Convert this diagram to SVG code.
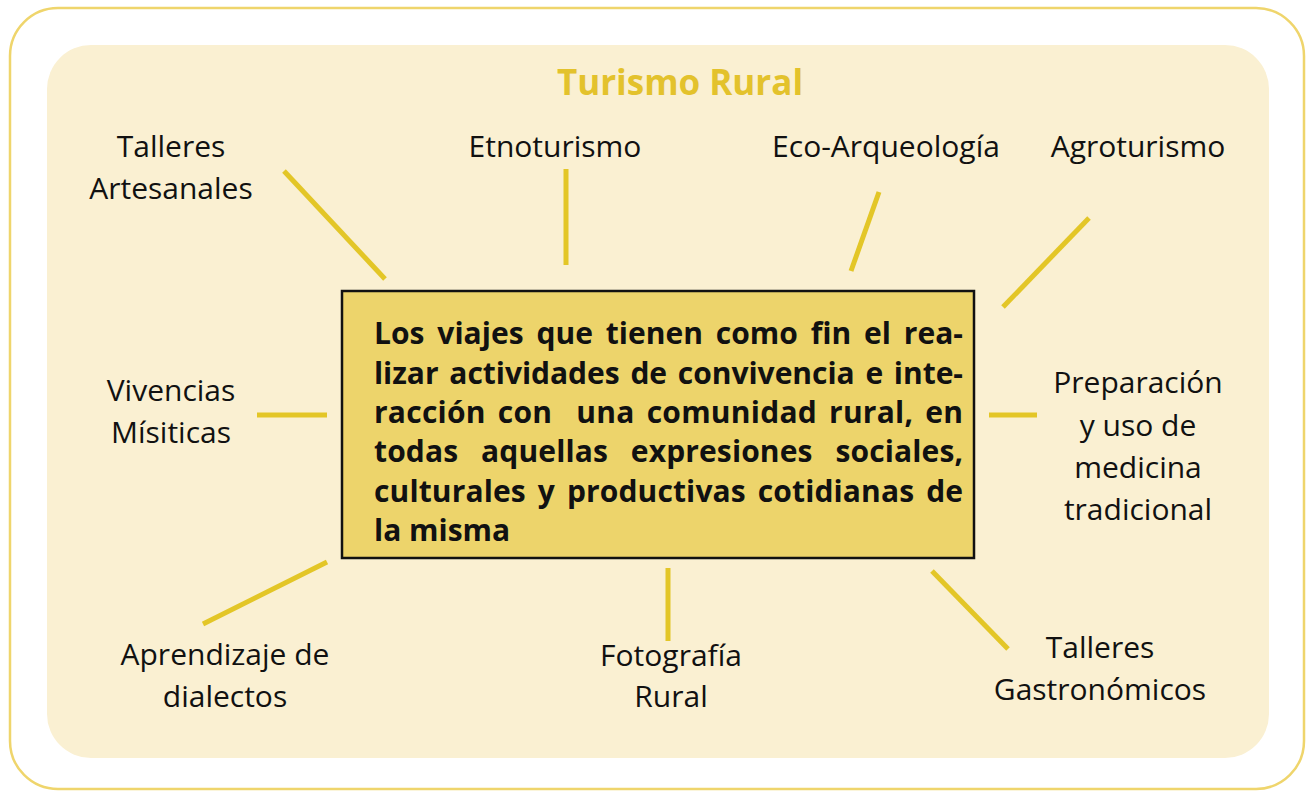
<svg xmlns="http://www.w3.org/2000/svg" width="1306" height="791" viewBox="0 0 1306 791">
<style>
.lbl{font-family:"Open Sans","Noto Sans","Liberation Sans",sans-serif;font-size:30px;fill:#111;text-anchor:middle}
.body{font-family:"Open Sans","Noto Sans","Liberation Sans",sans-serif;font-size:30px;font-weight:bold;fill:#111}
.title{font-family:"Open Sans","Noto Sans","Liberation Sans",sans-serif;font-size:35px;font-weight:bold;fill:#e3c22c;text-anchor:middle}
.con{stroke:#e3c627;stroke-width:5;fill:none}
</style>
<rect width="1306" height="791" fill="#ffffff"/>
<rect x="10" y="8" width="1294" height="781" rx="48" fill="#ffffff" stroke="#efd56c" stroke-width="2.5"/>
<rect x="47" y="45" width="1222" height="713" rx="44" fill="#faf0d2"/>
<text class="title" x="680" y="95">Turismo Rural</text>
<g id="connectors">
<line class="con" x1="284" y1="171" x2="385" y2="279"/>
<line class="con" x1="566" y1="169" x2="566" y2="265"/>
<line class="con" x1="879" y1="192" x2="851" y2="271"/>
<line class="con" x1="1089" y1="218" x2="1003" y2="307"/>
<line class="con" x1="257" y1="415" x2="327" y2="415"/>
<line class="con" x1="989" y1="415" x2="1037" y2="415"/>
<line class="con" x1="203" y1="624" x2="327" y2="562"/>
<line class="con" x1="668" y1="568" x2="668" y2="641"/>
<line class="con" x1="932" y1="571" x2="1008" y2="649"/>
</g>
<g id="center">
<rect x="342" y="291" width="632" height="267" fill="#edd46b" stroke="#111" stroke-width="2.5"/>
<text class="body" x="374" y="344" word-spacing="5" textLength="589" lengthAdjust="spacing">Los viajes que tienen como fin el rea-</text>
<text class="body" x="374" y="384" word-spacing="3" textLength="589" lengthAdjust="spacing">lizar actividades de convivencia e inte-</text>
<text class="body" x="374" y="423" word-spacing="4" textLength="589" lengthAdjust="spacing" xml:space="preserve">racción con  una comunidad rural, en</text>
<text class="body" x="374" y="462" word-spacing="15" textLength="589" lengthAdjust="spacing">todas aquellas expresiones sociales,</text>
<text class="body" x="374" y="502" word-spacing="4" textLength="589" lengthAdjust="spacing">culturales y productivas cotidianas de</text>
<text class="body" x="374" y="541">la misma</text>
</g>
<g id="talleres-artesanales"><text class="lbl" x="171" y="157">Talleres</text><text class="lbl" x="171" y="199">Artesanales</text></g>
<g id="etnoturismo"><text class="lbl" x="555" y="157">Etnoturismo</text></g>
<g id="eco-arqueologia"><text class="lbl" x="886" y="157">Eco-Arqueología</text></g>
<g id="agroturismo"><text class="lbl" x="1138" y="157">Agroturismo</text></g>
<g id="vivencias"><text class="lbl" x="171" y="401">Vivencias</text><text class="lbl" x="171" y="443">Mísiticas</text></g>
<g id="medicina"><text class="lbl" x="1138" y="393">Preparación</text><text class="lbl" x="1138" y="436">y uso de</text><text class="lbl" x="1138" y="478">medicina</text><text class="lbl" x="1138" y="520">tradicional</text></g>
<g id="dialectos"><text class="lbl" x="225" y="665">Aprendizaje de</text><text class="lbl" x="225" y="707">dialectos</text></g>
<g id="fotografia"><text class="lbl" x="671" y="666">Fotografía</text><text class="lbl" x="671" y="707">Rural</text></g>
<g id="talleres-gastronomicos"><text class="lbl" x="1100" y="658">Talleres</text><text class="lbl" x="1100" y="700">Gastronómicos</text></g>
</svg>
